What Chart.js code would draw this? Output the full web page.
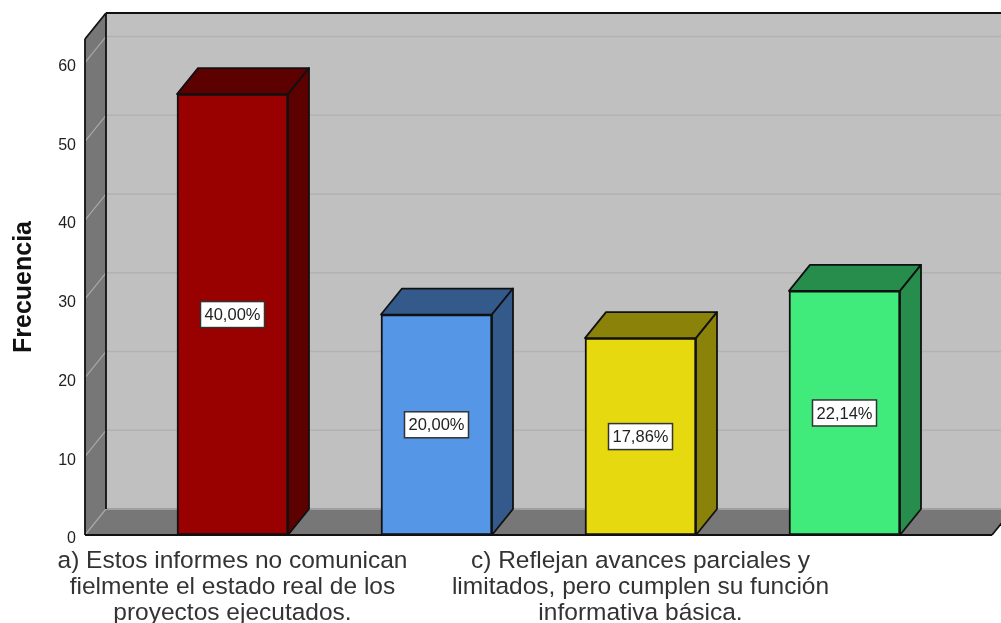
<!DOCTYPE html>
<html>
<head>
<meta charset="utf-8">
<script src="https://cdn.jsdelivr.net/npm/chart.js@4"></script>
<style>
    html, body { margin: 0; padding: 0; background: #fff; }
    #box { width: 1001px; height: 623px; }
</style>
</head>
<body>
<div id="box"><canvas id="myChart" width="1001" height="623"></canvas></div>
<script>
const categories = [
    ['a) Estos informes no comunican', 'fielmente el estado real de los', 'proyectos ejecutados.'],
    '',
    ['c) Reflejan avances parciales y', 'limitados, pero cumplen su función', 'informativa básica.'],
    ''
]
const frecuencia = [56, 28, 25, 31]
const porcentajes = ['40,00%', '20,00%', '17,86%', '22,14%']
const yTicks = [0, 10, 20, 30, 40, 50, 60]
const frontColors = ['#990000', '#5596e6', '#e6d90f', '#40eb7c']
const depthColors = ['#5c0000', '#335a8a', '#8a8209', '#268d4c']

const yMax = 63
const dx = 21
const dy = -26

function poly(ctx, pts, fill, stroke, lineWidth) {
    ctx.beginPath()
    pts.forEach((p, i) => i === 0 ? ctx.moveTo(p[0], p[1]) : ctx.lineTo(p[0], p[1]))
    ctx.closePath()
    ctx.fillStyle = fill
    ctx.fill()
    if (stroke) {
        ctx.strokeStyle = stroke
        ctx.lineWidth = lineWidth || 1.8
        ctx.lineJoin = 'round'
        ctx.stroke()
    }
}

function line(ctx, x1, y1, x2, y2, color, width) {
    ctx.beginPath()
    ctx.moveTo(x1, y1)
    ctx.lineTo(x2, y2)
    ctx.strokeStyle = color
    ctx.lineWidth = width
    ctx.stroke()
}

// back wall, side wall and floor of the 3d box
const wallsPlugin = {
    id: 'walls',
    beforeDatasetsDraw(chart) {
        const ctx = chart.ctx
        const { left, right, top, bottom } = chart.chartArea
        const yScale = chart.scales.y
        ctx.save()

        poly(ctx, [[left + dx, top + dy], [right + dx, top + dy], [right + dx, bottom + dy], [left + dx, bottom + dy]], '#c0c0c0')
        poly(ctx, [[left, bottom], [left + dx, bottom + dy], [right + dx, bottom + dy], [right, bottom]], '#777777')
        line(ctx, left + dx, bottom + dy, right + dx, bottom + dy, '#a0a0a0', 2)
        poly(ctx, [[left, top], [left + dx, top + dy], [left + dx, bottom + dy], [left, bottom]], '#777777')

        yScale.ticks.forEach(t => {
            const y = yScale.getPixelForValue(t.value)
            if (t.value > 0) {
                line(ctx, left + dx, y + dy, right + dx, y + dy, '#b2b2b2', 1.5)
            }
            line(ctx, left, y, left + dx, y + dy, '#a8a8a8', 1.2)
        })

        line(ctx, left, top, left + dx, top + dy, '#111', 1.8)
        line(ctx, left + dx, top + dy, right + dx, top + dy, '#111', 1.8)
        line(ctx, left + dx, top + dy, left + dx, bottom + dy, '#111', 1.8)
        line(ctx, left, top, left, bottom, '#111', 1.8)
        line(ctx, left, bottom, right, bottom, '#111', 1.8)
        line(ctx, right, bottom, right + dx, bottom + dy, '#111', 1.8)

        // top and right side of every bar
        chart.getDatasetMeta(0).data.forEach((bar, i) => {
            const x0 = bar.x - bar.width / 2
            const x1 = bar.x + bar.width / 2
            poly(ctx, [[x0, bar.y], [x0 + dx, bar.y + dy], [x1 + dx, bar.y + dy], [x1, bar.y]], depthColors[i], '#111')
            poly(ctx, [[x1, bar.y], [x1 + dx, bar.y + dy], [x1 + dx, bar.base + dy], [x1, bar.base]], depthColors[i], '#111')
        })
        ctx.restore()
    },
    afterDatasetsDraw(chart) {
        const ctx = chart.ctx
        ctx.save()
        ctx.font = '16.5px "Liberation Sans"'
        ctx.textAlign = 'center'
        ctx.textBaseline = 'middle'
        chart.getDatasetMeta(0).data.forEach((bar, i) => {
            const y = (bar.y + bar.base) / 2
            ctx.fillStyle = '#fff'
            ctx.fillRect(bar.x - 32, y - 13, 64, 26)
            ctx.strokeStyle = '#333'
            ctx.lineWidth = 1.5
            ctx.strokeRect(bar.x - 32, y - 13, 64, 26)
            ctx.fillStyle = '#222'
            ctx.fillText(porcentajes[i], bar.x, y + 1)
        })
        ctx.restore()
    }
}

new Chart(document.querySelector('#myChart'), {
    type: 'bar',
    data: {
        datasets: [{
            data: frecuencia.map((v, i) => ({ x: i, y: v })),
            backgroundColor: frontColors,
            borderColor: '#111',
            borderWidth: 2,
            borderSkipped: false,
            barThickness: 111
        }]
    },
    options: {
        responsive: false,
        animation: false,
        layout: { autoPadding: false, padding: { top: 39, right: 9 } },
        plugins: { legend: { display: false }, tooltip: { enabled: false } },
        scales: {
            x: {
                type: 'linear',
                offset: false,
                min: -0.723,
                max: 3.723,
                afterBuildTicks: scale => { scale.ticks = categories.map((c, i) => ({ value: i })) },
                afterFit: scale => { scale.height = 88 },
                grid: { display: false },
                border: { display: false },
                ticks: {
                    autoSkip: false,
                    maxRotation: 0,
                    padding: 5,
                    color: '#333',
                    font: { family: '"Liberation Sans"', size: 24.5, lineHeight: 1.06 },
                    callback: value => categories[value]
                }
            },
            y: {
                min: 0,
                max: yMax,
                afterBuildTicks: scale => { scale.ticks = yTicks.map(v => ({ value: v })) },
                afterFit: scale => { scale.width = 85 },
                grid: { display: false, drawTicks: false },
                border: { display: false },
                title: {
                    display: true,
                    text: 'Frecuencia',
                    color: '#111',
                    padding: { top: 9, bottom: 0 },
                    font: { family: '"Liberation Sans"', size: 25, weight: 'bold' }
                },
                ticks: {
                    padding: 9,
                    labelOffset: 4,
                    color: '#222',
                    font: { family: '"Liberation Sans"', size: 16 }
                }
            }
        }
    },
    plugins: [wallsPlugin]
})
</script>
</body>
</html>
